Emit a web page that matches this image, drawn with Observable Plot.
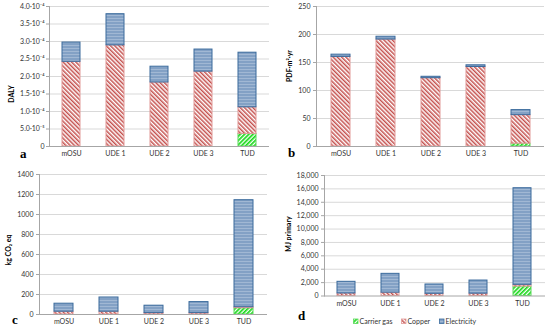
<!DOCTYPE html>
<html><head><meta charset="utf-8">
<script src="https://cdn.jsdelivr.net/npm/d3@7"></script>
<script src="https://cdn.jsdelivr.net/npm/@observablehq/plot@0.6"></script>
<style>
body{margin:0;background:#fff;}
#wrap{position:relative;width:550px;height:329px;overflow:hidden;background:#fff;}
#wrap svg.pnl{position:absolute;}
</style></head><body>
<svg width="0" height="0" style="position:absolute">
<defs>
<pattern id="pCopper" width="3" height="3" patternUnits="userSpaceOnUse" patternTransform="rotate(-45)">
<rect width="3" height="3" fill="#ffffff"/><rect width="1.5" height="3" fill="#c4504d"/>
</pattern>
<pattern id="pCarrier" width="3" height="3" patternUnits="userSpaceOnUse" patternTransform="rotate(45)">
<rect width="3" height="3" fill="#ffffff"/><rect width="1.7" height="3" fill="#19d919"/>
</pattern>
<pattern id="pElec" width="4" height="3" patternUnits="userSpaceOnUse">
<rect width="4" height="3" fill="#83a1c5"/><rect width="4" height="1" fill="#a1b8d4"/>
</pattern>
</defs>
</svg>
<div id="wrap"></div>
<script>
const categories = ["mOSU", "UDE 1", "UDE 2", "UDE 3", "TUD"];
const seriesNames = ["Carrier gas", "Copper", "Electricity"];

// (a) DALY
const dalyCarrier = [0, 0, 0, 0, 0.36e-4];
const dalyCopper = [2.42e-4, 2.89e-4, 1.83e-4, 2.14e-4, 0.76e-4];
const dalyElectricity = [0.55e-4, 0.89e-4, 0.45e-4, 0.63e-4, 1.56e-4];
const dalyTicks = [0, 0.5e-4, 1.0e-4, 1.5e-4, 2.0e-4, 2.5e-4, 3.0e-4, 3.5e-4, 4.0e-4];
const dalyTickLabels = ["0", "5.0·10⁻⁵", "1.0·10⁻⁴", "1.5·10⁻⁴", "2.0·10⁻⁴", "2.5·10⁻⁴", "3.0·10⁻⁴", "3.5·10⁻⁴", "4.0·10⁻⁴"];

// (b) PDF·m²·yr
const pdfCarrier = [0, 0, 0, 0, 5];
const pdfCopper = [160, 191, 122, 142, 51];
const pdfElectricity = [4, 5, 2.5, 3, 9];
const pdfTicks = [0, 50, 100, 150, 200, 250];
const pdfTickLabels = ["0", "50", "100", "150", "200", "250"];

// (c) kg CO2 eq
const co2Carrier = [0, 0, 0, 0, 63];
const co2Copper = [28, 28, 14, 14, 10];
const co2Electricity = [80, 142, 74, 110, 1070];
const co2Ticks = [0, 200, 400, 600, 800, 1000, 1200, 1400];
const co2TickLabels = ["0", "200", "400", "600", "800", "1000", "1200", "1400"];

// (d) MJ primary
const mjCarrier = [0, 0, 0, 0, 1420];
const mjCopper = [380, 500, 330, 350, 250];
const mjElectricity = [1740, 2810, 1390, 1960, 14430];
const mjTicks = [0, 2000, 4000, 6000, 8000, 10000, 12000, 14000, 16000, 18000];
const mjTickLabels = ["0", "2,000", "4,000", "6,000", "8,000", "10,000", "12,000", "14,000", "16,000", "18,000"];

const fillOf = {"Carrier gas": "url(#pCarrier)", "Copper": "url(#pCopper)", "Electricity": "url(#pElec)"};
const strokeOf = {"Carrier gas": "#5ad95a", "Copper": "#e29a98", "Electricity": "#3a6a9c"};

const wrap = document.getElementById("wrap");

function panel(o) {
  const rows = [];
  categories.forEach((c, i) => {
    [[seriesNames[0], o.carrier[i]], [seriesNames[1], o.copper[i]], [seriesNames[2], o.electricity[i]]]
      .forEach(([s, v]) => { if (v > 0) rows.push({cat: c, series: s, value: v}); });
  });
  const svg = Plot.plot({
    width: o.width, height: o.height,
    marginLeft: o.mL, marginRight: o.mR, marginTop: o.mT, marginBottom: o.mB,
    style: {fontFamily: "Lato, 'Open Sans', sans-serif", fontSize: "7px", color: "#333", background: "transparent", overflow: "visible"},
    x: {domain: categories, paddingInner: 0.58, paddingOuter: 0.29, axis: null},
    y: {domain: [0, o.ticks[o.ticks.length - 1]], axis: null},
    color: {type: "identity"},
    marks: [
      Plot.ruleY(o.ticks.slice(1), {stroke: "#d9d9d9", strokeWidth: 1}),
      Plot.barY(rows, {x: "cat", y: "value", z: "series", fill: d => fillOf[d.series], stroke: d => strokeOf[d.series], strokeWidth: 1}),
      Plot.ruleY([0], {stroke: "#a6a6a6"}),
      Plot.frame({anchor: "left", stroke: "#a6a6a6"}),
      Plot.axisY({ticks: o.ticks, tickFormat: d => o.labels[o.ticks.indexOf(d)], tickSize: 3, tickPadding: o.tickPad, stroke: "#a6a6a6", fill: "#333", label: null}),
      Plot.axisX({tickSize: 0, tickPadding: 5, fill: "#333", label: null})
    ]
  });
  svg.classList.add("pnl");
  svg.style.left = o.left + "px";
  svg.style.top = o.top + "px";
  wrap.appendChild(svg);
}

panel({carrier: dalyCarrier, copper: dalyCopper, electricity: dalyElectricity, ticks: dalyTicks, labels: dalyTickLabels,
  left: 0, top: 0, width: 275, height: 165, mL: 49, mR: 6, mT: 6, mB: 19, tickPad: 2});
panel({carrier: pdfCarrier, copper: pdfCopper, electricity: pdfElectricity, ticks: pdfTicks, labels: pdfTickLabels,
  left: 275, top: 0, width: 275, height: 165, mL: 41, mR: 6, mT: 6, mB: 19, tickPad: 3});
panel({carrier: co2Carrier, copper: co2Copper, electricity: co2Electricity, ticks: co2Ticks, labels: co2TickLabels,
  left: 0, top: 165, width: 275, height: 164, mL: 39, mR: 8, mT: 9, mB: 15, tickPad: 3});
panel({carrier: mjCarrier, copper: mjCopper, electricity: mjElectricity, ticks: mjTicks, labels: mjTickLabels,
  left: 275, top: 165, width: 275, height: 164, mL: 49, mR: 5, mT: 10, mB: 33.5, tickPad: 3});

// overlay: axis titles, panel letters, legend
const ov = d3.select(wrap).append("svg")
  .attr("width", 550).attr("height", 329)
  .style("position", "absolute").style("left", "0px").style("top", "0px");

const yTitles = [
  {x: 12, y: 94, t: "DALY"},
  {x: 290, y: 66, t: "PDF·m²·yr"},
  {x: 9, y: 250, t: "kg CO₂ eq"},
  {x: 289, y: 234, t: "MJ primary"}
];
yTitles.forEach(d => {
  ov.append("text")
    .attr("transform", `translate(${d.x},${d.y}) rotate(-90)`)
    .attr("text-anchor", "middle").attr("dy", "0.35em")
    .style("font", "bold 7px Lato, sans-serif").attr("fill", "#000")
    .text(d.t);
});

const letters = [
  {x: 20, y: 157.5, t: "a"},
  {x: 288, y: 157, t: "b"},
  {x: 12, y: 324, t: "c"},
  {x: 298, y: 320, t: "d"}
];
letters.forEach(d => {
  ov.append("text").attr("x", d.x).attr("y", d.y)
    .style("font", "bold 13px 'Liberation Serif', 'DejaVu Serif', serif").attr("fill", "#000")
    .text(d.t);
});

const legendX = [353.5, 401.5, 439.5];
seriesNames.forEach((s, i) => {
  ov.append("rect").attr("x", legendX[i]).attr("y", 319).attr("width", 4.5).attr("height", 4.5)
    .attr("fill", fillOf[s]).attr("stroke", strokeOf[s]).attr("stroke-width", 0.8);
  ov.append("text").attr("x", legendX[i] + 6).attr("y", 324.3)
    .style("font", "7px Lato, sans-serif").attr("fill", "#333")
    .text(s);
});
</script>
</body></html>
